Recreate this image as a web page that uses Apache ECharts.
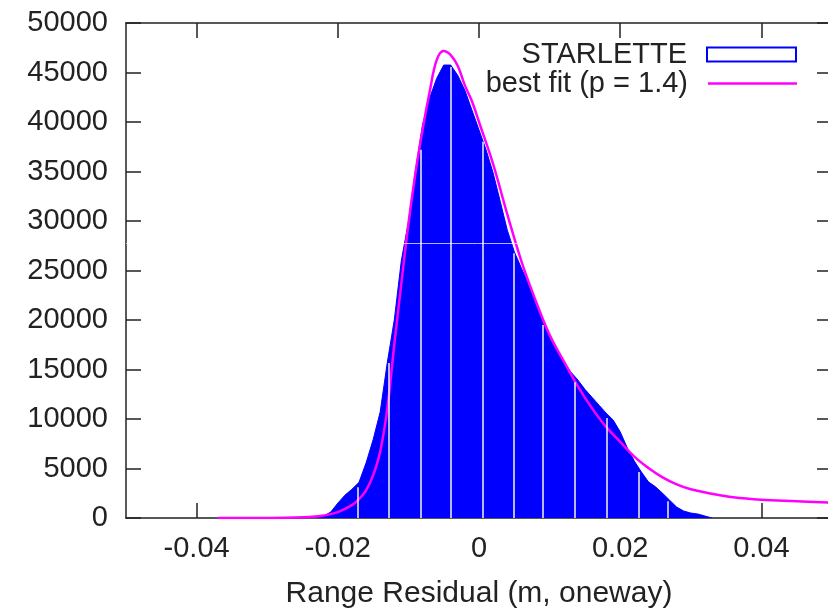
<!DOCTYPE html>
<html>
<head>
<meta charset="utf-8">
<style>
  html, body { margin: 0; padding: 0; background: #fff; }
  #chart { width: 828px; height: 609px; }
</style>
<script src="https://cdn.jsdelivr.net/npm/echarts@6/dist/echarts.min.js"></script>
</head>
<body>
<div id="chart"></div>
<script>
// histogram bin centres (m) and counts
const binX = [-0.023, -0.022, -0.021, -0.020, -0.019, -0.018, -0.017, -0.016, -0.015, -0.014,
  -0.013, -0.012, -0.011, -0.010, -0.009, -0.008, -0.007, -0.006, -0.005, -0.004,
  -0.003, -0.002, -0.001, 0, 0.001, 0.002, 0.003, 0.004, 0.005, 0.006,
  0.007, 0.008, 0.009, 0.010, 0.011, 0.012, 0.013, 0.014, 0.015, 0.016,
  0.017, 0.018, 0.019, 0.020, 0.021, 0.022, 0.023, 0.024, 0.025, 0.026,
  0.027, 0.028, 0.029, 0.030, 0.031, 0.032, 0.033]
const counts = [0, 200, 600, 1500, 2300, 2900, 3600, 5550, 7900, 10700,
  15650, 20000, 26000, 29900, 35100, 39700, 42400, 44400, 45750, 45750,
  44700, 43200, 41200, 39200, 37200, 34850, 32000, 29100, 26900, 25250,
  23700, 21800, 20000, 18300, 17000, 15850, 14750, 13950, 13000, 12200,
  11400, 10600, 9900, 8700, 7100, 5750, 4650, 3650, 3150, 2500,
  1800, 1100, 700, 500, 400, 200, 0]

// best fit curve
const fitX = [-0.037, -0.030, -0.026, -0.024, -0.022, -0.020, -0.018, -0.017, -0.016, -0.015,
  -0.014, -0.013, -0.012, -0.011, -0.010, -0.009, -0.008, -0.007, -0.006, -0.005,
  -0.004, -0.003, -0.002, -0.001, 0, 0.002, 0.004, 0.006, 0.008, 0.010,
  0.012, 0.014, 0.016, 0.018, 0.020, 0.022, 0.024, 0.026, 0.028, 0.030,
  0.033, 0.036, 0.040, 0.045, 0.050]
const fitY = [0, 10, 40, 100, 250, 600, 1300, 1900, 2800, 4300,
  6700, 11000, 17500, 23700, 29700, 34850, 39200, 43000, 46250, 47170,
  46750, 45650, 43700, 42100, 40000, 35750, 30700, 25950, 22000, 18500,
  15850, 13300, 11100, 9200, 7700, 6200, 5050, 4100, 3400, 2900,
  2450, 2100, 1850, 1700, 1550]

// thin white gaps visible inside the histogram (x, top)
const gapX = [-0.0172, -0.0128, -0.0083, -0.0040, 0.0005, 0.0049, 0.0091, 0.0136, 0.0181, 0.0226, 0.0268]
const gapTop = [3100, 15650, 37200, 45550, 38000, 26750, 19500, 13700, 10100, 4650, 1700]
// faint horizontal streak across the picture
const streakY = 27800

const xTicks = [-0.04, -0.02, 0, 0.02, 0.04]

const FONT = '"Liberation Sans", Arial, sans-serif'
const TEXT = '#222'
const AXIS = '#222'

const chart = echarts.init(document.getElementById('chart'))

const axisLine = { show: true, onZero: false, lineStyle: { color: AXIS, width: 1.5 } }
const tickStyle = { inside: true, length: 15, lineStyle: { color: AXIS, width: 1.5 } }

const option = {
  backgroundColor: '#fff',
  animation: false,
  grid: { left: 126, top: 23, width: 706, height: 495, outerBoundsMode: 'none', containLabel: false },
  legend: [
    {
      data: [{ name: 'STARLETTE', icon: 'rect', itemStyle: { color: '#fff', borderColor: '#0000ff', borderWidth: 2 } }],
      align: 'right',
      right: 31,
      top: 40,
      padding: 0,
      itemWidth: 89,
      itemHeight: 14,
      selectedMode: false,
      textStyle: { fontFamily: FONT, fontSize: 29, color: TEXT, padding: [0, 15, 0, 0] }
    },
    {
      data: [{ name: 'best fit (p = 1.4)', icon: 'rect', itemStyle: { color: '#ff00ff' } }],
      align: 'right',
      right: 31,
      top: 69,
      padding: 0,
      itemWidth: 89,
      itemHeight: 2.5,
      selectedMode: false,
      textStyle: { fontFamily: FONT, fontSize: 29, color: TEXT, padding: [0, 15, 0, 0] }
    }
  ],
  xAxis: [
    {
      type: 'value',
      min: -0.05,
      max: 0.05,
      position: 'bottom',
      name: 'Range Residual (m, oneway)',
      nameLocation: 'middle',
      nameGap: 61,
      nameTextStyle: { fontFamily: FONT, fontSize: 30, color: TEXT },
      axisLine: axisLine,
      axisTick: Object.assign({ customValues: xTicks }, tickStyle),
      axisLabel: {
        customValues: xTicks,
        margin: 16,
        fontFamily: FONT, fontSize: 29, color: TEXT,
        formatter: v => String(v)
      },
      splitLine: { show: false }
    },
    {
      type: 'value',
      min: -0.05,
      max: 0.05,
      position: 'top',
      axisLine: axisLine,
      axisTick: Object.assign({ customValues: xTicks }, tickStyle),
      axisLabel: { show: false },
      splitLine: { show: false }
    }
  ],
  yAxis: [
    {
      type: 'value',
      min: 0,
      max: 50000,
      interval: 5000,
      position: 'left',
      axisLine: axisLine,
      axisTick: tickStyle,
      axisLabel: { margin: 18, fontFamily: FONT, fontSize: 29, color: TEXT, formatter: v => String(v) },
      splitLine: { show: false }
    },
    {
      type: 'value',
      min: 0,
      max: 50000,
      interval: 5000,
      position: 'right',
      axisLine: axisLine,
      axisTick: tickStyle,
      axisLabel: { show: false },
      splitLine: { show: false }
    }
  ],
  series: [
    {
      name: 'STARLETTE',
      type: 'line',
      data: binX.map((x, i) => [x, counts[i]]),
      symbol: 'none',
      lineStyle: { color: '#0000ff', width: 1 },
      itemStyle: { color: '#0000ff' },
      areaStyle: { color: '#0000ff', opacity: 1 },
      z: 2,
      markLine: {
        silent: true,
        symbol: 'none',
        label: { show: false },
        lineStyle: { color: '#f4f4ff', width: 1.5, type: 'solid' },
        data: gapX.map((x, i) => [{ coord: [x, 0] }, { coord: [x, gapTop[i]] }])
          .concat([{ yAxis: streakY, lineStyle: { color: '#ffffff', width: 1, opacity: 0.7 } }])
      }
    },
    {
      name: 'best fit (p = 1.4)',
      type: 'line',
      data: fitX.map((x, i) => [x, fitY[i]]),
      symbol: 'none',
      smooth: 0.4,
      lineStyle: { color: '#ff00ff', width: 2.5 },
      itemStyle: { color: '#ff00ff' },
      z: 3
    }
  ]
}

chart.setOption(option)
</script>
</body>
</html>
